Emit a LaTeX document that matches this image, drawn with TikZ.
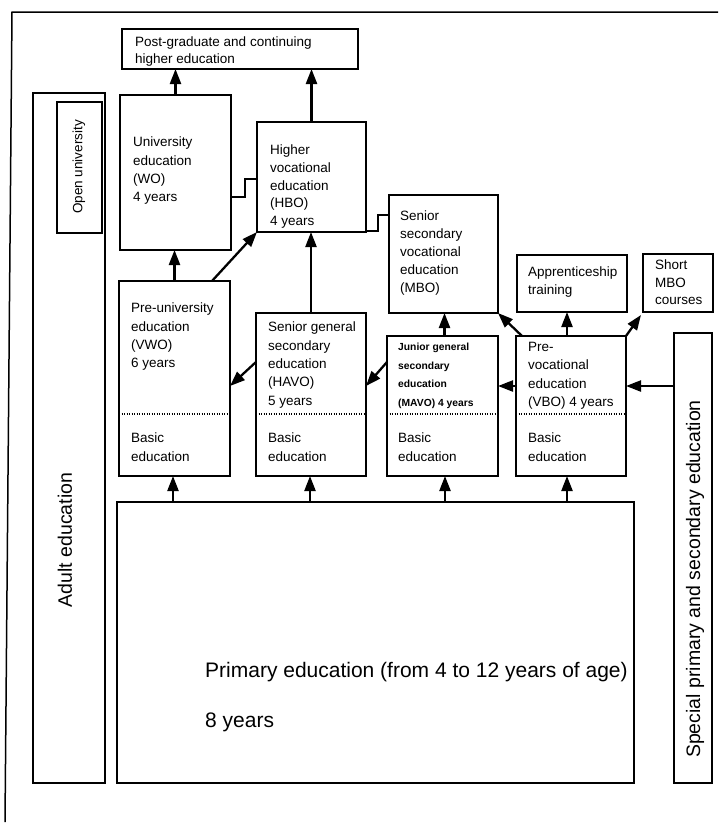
\documentclass[tikz,border=0pt]{standalone}
\usepackage{fontspec}
\setmainfont{Liberation Sans}
\usetikzlibrary{arrows.meta,calc}
\begin{document}
\begin{tikzpicture}[x=1pt,y=-1pt,
  box/.style={draw,line width=1.7pt,inner sep=0pt,outer sep=0pt,anchor=north west},
  txt/.style={inner sep=0pt,anchor=north west,align=left,font=\fontsize{13.5}{18.3}\selectfont},
  smalltxt/.style={inner sep=0pt,anchor=north west,align=left,font=\bfseries\fontsize{10.3}{18.6}\selectfont},
  bigtxt/.style={inner sep=0pt,font=\fontsize{19.5}{24}\selectfont},
  arr/.style={line width=2.3pt,-{Triangle[length=15pt,width=11pt]}},
  link/.style={line width=1.7pt},
  dotline/.style={line width=1.8pt,dash pattern=on 1.4pt off 1.1pt},
]
\useasboundingbox (0,0) rectangle (718,825);
% outer frame
\draw[line width=1.5pt] (5,822) -- (12,12) -- (718,12);

% level coordinates
\coordinate (L179) at (0,179);
\coordinate (L197) at (0,197);
\coordinate (L215) at (0,215);
\coordinate (L231) at (0,231);
\coordinate (L362) at (0,362);
\coordinate (L386) at (0,386);
\coordinate (L414) at (0,414);
\coordinate (X245) at (245,0);
\coordinate (X378) at (378,0);

% boxes
\node[box,minimum width=236pt,minimum height=40pt] (pg) at (122,29) {};
\node[box,minimum width=72pt,minimum height=690pt] (adult) at (33,93) {};
\node[box,minimum width=45pt,minimum height=131pt] (open) at (57,102) {};
\node[box,minimum width=111pt,minimum height=155pt] (wo) at (120,95) {};
\node[box,minimum width=109pt,minimum height=110pt] (hbo) at (257,122) {};
\node[box,minimum width=109pt,minimum height=118pt] (mbo) at (389,195) {};
\node[box,minimum width=110pt,minimum height=57pt] (appr) at (517,255) {};
\node[box,minimum width=70pt,minimum height=58pt] (short) at (643,254) {};
\node[box,minimum width=111pt,minimum height=195pt] (vwo) at (119,281) {};
\node[box,minimum width=110pt,minimum height=163pt] (havo) at (256,313) {};
\node[box,minimum width=111pt,minimum height=140pt] (mavo) at (387,336) {};
\node[box,minimum width=110pt,minimum height=140pt] (vbo) at (516,336) {};
\node[box,minimum width=38pt,minimum height=450pt] (special) at (674,333) {};
\node[box,minimum width=517pt,minimum height=281pt] (primary) at (117,502) {};

% dotted separators
\foreach \b in {vwo,havo,mavo,vbo}
  \draw[dotline] (\b.west |- L414) -- (\b.east |- L414);

% texts
\node[txt,font=\fontsize{13.5}{17}\selectfont] (tpg) at (135,37) {Post-graduate and continuing\\higher education};
\node[txt] (two) at (133,137) {University\\education\\(WO)\\4 years};
\node[txt,font=\fontsize{13.5}{17.6}\selectfont] (thbo) at (270,145) {Higher\\vocational\\education\\(HBO)\\4 years};
\node[txt,font=\fontsize{13.5}{18}\selectfont] (tmbo) at (400,211) {Senior\\secondary\\vocational\\education\\(MBO)};
\node[txt,font=\fontsize{13.5}{17.2}\selectfont] (tappr) at (528,267) {Apprenticeship\\training};
\node[txt,font=\fontsize{13.5}{17.5}\selectfont] (tshort) at (655,260) {Short\\MBO\\courses};
\node[txt] (tvwo) at (131,303) {Pre-university\\education\\(VWO)\\6 years};
\node[txt] (thavo) at (268,322) {Senior general\\secondary\\education\\(HAVO)\\5 years};
\node[smalltxt] (tmavo) at (398,343) {Junior general\\secondary\\education\\(MAVO) 4 years};
\node[txt] (tvbo) at (528,342) {Pre-\\vocational\\education\\(VBO) 4 years};
\node[txt] (bvwo) at (131,433) {Basic\\education};
\node[txt] (bhavo) at (268,433) {Basic\\education};
\node[txt] (bmavo) at (398,433) {Basic\\education};
\node[txt] (bvbo) at (528,433) {Basic\\education};
\node[inner sep=0pt,rotate=90,font=\fontsize{13.5}{15}\selectfont] (topen) at (79,167) {Open university};
\node[bigtxt,rotate=90] (tadult) at (65,540) {Adult education};
\node[bigtxt,rotate=90] (tspecial) at (695,579) {Special primary and secondary education};
\node[inner sep=0pt,anchor=base west,font=\fontsize{21}{26}\selectfont] (tprim1) at (205,677) {Primary education (from 4 to 12 years of age)};
\node[inner sep=0pt,anchor=base west,font=\fontsize{21}{26}\selectfont] (tprim2) at (205,727) {8 years};

% step links
\draw[link] (wo.east |- L197) -- (X245 |- L197) -- (X245 |- L179) -- (hbo.west |- L179);
\draw[link] (hbo.east |- L231) -- (X378 |- L231) -- (X378 |- L215) -- (mbo.west |- L215);

% arrows upward
\draw[arr] (wo.north) -- (wo.north |- pg.south);
\draw[arr] (hbo.north) -- (hbo.north |- pg.south);
\draw[arr] (vwo.north) -- (vwo.north |- wo.south);
\draw[arr] ([xshift=-18pt]vwo.north east) -- (hbo.south west);
\draw[arr] (havo.north) -- (havo.north |- hbo.south);
\draw[arr] ([xshift=2pt]mavo.north) -- ([xshift=2pt]mavo.north |- mbo.south);
\draw[arr] ([xshift=6pt]vbo.north west) -- (mbo.south east);
\draw[arr] ([xshift=-4pt]vbo.north) -- ([xshift=-4pt]vbo.north |- appr.south);
\draw[arr] (vbo.north east) -- ([xshift=-2pt,yshift=-3pt]short.south west);

% arrows sideways
\draw[arr] (havo.west |- L362) -- (vwo.east |- L386);
\draw[arr] (mavo.west |- L362) -- (havo.east |- L386);
\draw[arr] (vbo.west |- L386) -- (mavo.east |- L386);
\draw[arr] (special.west |- L386) -- (vbo.east |- L386);

% arrows from primary
\draw[arr] ([xshift=-1.5pt]vwo.south |- primary.north) -- ([xshift=-1.5pt]vwo.south);
\draw[arr] ([xshift=-1pt]havo.south |- primary.north) -- ([xshift=-1pt]havo.south);
\draw[arr] ([xshift=2.5pt]mavo.south |- primary.north) -- ([xshift=2.5pt]mavo.south);
\draw[arr] ([xshift=-4pt]vbo.south |- primary.north) -- ([xshift=-4pt]vbo.south);
\end{tikzpicture}
\end{document}
